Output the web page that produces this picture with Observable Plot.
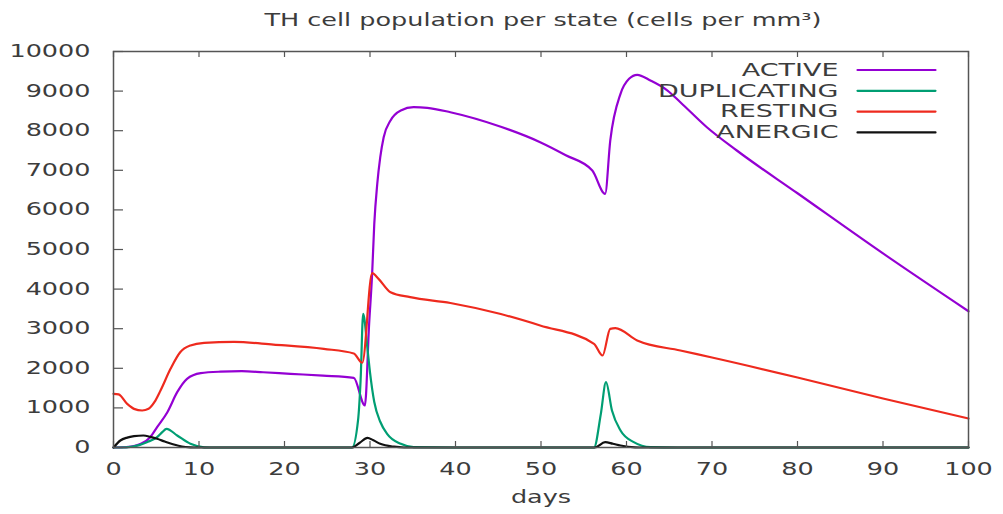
<!DOCTYPE html>
<html>
<head>
<meta charset="utf-8">
<script src="https://cdn.jsdelivr.net/npm/d3@7"></script>
<script src="https://cdn.jsdelivr.net/npm/@observablehq/plot@0.6"></script>
<style>
html, body { margin: 0; padding: 0; background: #fff; }
#chart { width: 1003px; height: 514px; }
</style>
</head>
<body>
<div id="chart"></div>
<script>
// ---- text ----
const chartTitle = "TH cell population per state (cells per mm³)";
const xLabel = "days";
const xTicks = [0, 10, 20, 30, 40, 50, 60, 70, 80, 90, 100];
const yTicks = [0, 1000, 2000, 3000, 4000, 5000, 6000, 7000, 8000, 9000, 10000];

// ---- series ----
const seriesNames = ["ACTIVE", "DUPLICATING", "RESTING", "ANERGIC"];
const seriesColors = ["#9400d3", "#009e73", "#ee2a1e", "#111111"];

const activeDays = [0, 1.5, 2.5, 3.2, 4.3, 5.1, 6.3, 7.45, 8.6, 10.2, 12.5, 15, 17.5, 20.7, 24.5, 28.1, 29.4, 29.9, 30.25, 30.5, 30.85, 31.2, 31.6, 32.4, 33.6, 35.1, 36.7, 39.4, 45.3, 49.9, 52.9, 56.0, 57.5, 58.1, 59.3, 60.3, 61.25, 62.8, 64.8, 66.3, 69.4, 72.9, 80, 90, 100];
const activeValues = [0, 10, 40, 93, 261, 514, 892, 1397, 1734, 1877, 1915, 1927, 1900, 1860, 1815, 1760, 1061, 3124, 4386, 5648, 6660, 7331, 7836, 8258, 8510, 8594, 8578, 8467, 8100, 7710, 7380, 6995, 6406, 7752, 8932, 9310, 9412, 9268, 9015, 8720, 8088, 7500, 6420, 4900, 3440];

const duplicatingDays = [0, 1.5, 3.0, 3.9, 5.1, 5.7, 6.2, 7.45, 9.0, 10.6, 12, 27.9, 28.6, 28.9, 29.2, 29.7, 30.0, 30.5, 31.2, 32.0, 33.6, 35.1, 40, 56.2, 57.0, 57.6, 58.3, 59.3, 60.85, 62.8, 66, 100];
const duplicatingValues = [0, 5, 60, 135, 261, 387, 472, 303, 93, 5, 0, 0, 682, 1692, 3376, 2500, 1900, 1150, 650, 346, 93, 10, 0, 0, 850, 1650, 934, 429, 135, 10, 0, 0];

const restingDays = [0, 0.6, 1.6, 2.4, 3.35, 4.1, 4.8, 5.5, 6.67, 7.8, 9.0, 10.6, 14.1, 18.7, 24.6, 28.1, 29.1, 30.25, 31.0, 32.4, 34.7, 39.4, 45.3, 49.9, 56.2, 57.2, 58.1, 58.7, 61.25, 66.3, 70, 80, 90, 100];
const restingValues = [1356, 1340, 1100, 975, 934, 977, 1150, 1439, 1987, 2407, 2576, 2643, 2668, 2600, 2491, 2375, 2140, 4402, 4259, 3922, 3796, 3650, 3370, 3081, 2619, 2323, 2997, 3013, 2702, 2449, 2273, 1768, 1237, 732];

const anergicDays = [0, 0.8, 1.6, 2.4, 3.5, 4.3, 5.1, 6.0, 7.05, 8, 9, 10, 27.9, 28.8, 29.7, 30.4, 31.2, 32.8, 34, 56.3, 57.5, 58.4, 59.3, 61, 62, 100];
const anergicValues = [0, 177, 250, 286, 303, 270, 219, 150, 76, 25, 5, 0, 0, 120, 244, 180, 93, 20, 0, 0, 135, 95, 50, 5, 0, 0];

// ---- build table for the library ----
const seriesDays = [activeDays, duplicatingDays, restingDays, anergicDays];
const seriesValues = [activeValues, duplicatingValues, restingValues, anergicValues];
const table = [];
seriesNames.forEach((name, k) => {
  seriesDays[k].forEach((d, i) => table.push({series: name, day: d, value: seriesValues[k][i]}));
});

// ---- layout ----
const W = 1003, H = 514;
const mTop = 51, mRight = 35, mBottom = 67, mLeft = 113;
const frameW = W - mLeft - mRight, frameH = H - mTop - mBottom;
const textColor = "#3c3c3c";
const font = "DejaVu Sans";
const fs = 17;

const legendMarks = [];
seriesNames.forEach((name, i) => {
  legendMarks.push(Plot.text([name], {
    frameAnchor: "top-right", text: d => d, textAnchor: "end", lineAnchor: "middle",
    dx: -130, dy: 18.5 + i * 20.8, fontSize: 18, fontFamily: font, fill: textColor
  }));
  legendMarks.push(Plot.vector([name], {
    frameAnchor: "top-right", dx: -33, dy: 18.5 + i * 20.8,
    length: 78, rotate: -90, anchor: "start",
    shape: {draw(ctx, l) { ctx.moveTo(0, 0); ctx.lineTo(0, -l); }},
    stroke: seriesColors[i], strokeWidth: 2.2
  }));
});

const chart = Plot.plot({
  width: W, height: H,
  marginTop: mTop, marginRight: mRight, marginBottom: mBottom, marginLeft: mLeft,
  x: {domain: [0, 100], axis: null},
  y: {domain: [0, 10000], axis: null},
  color: {domain: seriesNames, range: seriesColors},
  style: {fontFamily: font, background: "#fff"},
  marks: [
    Plot.line(table, {x: "day", y: "value", z: "series", stroke: "series", curve: "monotone-x", strokeWidth: 2.2}),
    // inward ticks (gnuplot style)
    Plot.tickX(xTicks, {x: d => d, insetTop: frameH - 6, stroke: "#555", strokeWidth: 1.2}),
    Plot.tickX(xTicks, {x: d => d, insetBottom: frameH - 6, stroke: "#555", strokeWidth: 1.2}),
    Plot.tickY(yTicks, {y: d => d, insetRight: frameW - 10, stroke: "#555", strokeWidth: 1.2}),
    Plot.frame({stroke: "#555", strokeWidth: 1.5}),
    // tick labels
    Plot.text(xTicks, {x: d => d, text: d => String(d), frameAnchor: "bottom", lineAnchor: "top", dy: 15, fontSize: fs, fontFamily: font, fill: textColor}),
    Plot.text(yTicks, {y: d => d, text: d => String(d), frameAnchor: "left", textAnchor: "end", dx: -23, fontSize: fs, fontFamily: font, fill: textColor}),
    // title and axis label
    Plot.text([chartTitle], {text: d => d, frameAnchor: "top", lineAnchor: "middle", dx: 2, dy: -31, fontSize: fs, fontFamily: font, fill: textColor}),
    Plot.text([xLabel], {text: d => d, frameAnchor: "bottom", lineAnchor: "middle", dy: 50, fontSize: fs, fontFamily: font, fill: textColor}),
    ...legendMarks
  ]
});

// the reference glyphs are horizontally stretched: widen all text 1.5x
chart.querySelectorAll("text").forEach(t => {
  let tr = t.getAttribute("transform") || "";
  const x = t.getAttribute("x");
  if (x != null && !isNaN(+x)) { tr += ` translate(${x},0)`; t.removeAttribute("x"); }
  t.setAttribute("transform", (tr + " scale(1.5,1)").trim());
});

document.getElementById("chart").appendChild(chart);
</script>
</body>
</html>
